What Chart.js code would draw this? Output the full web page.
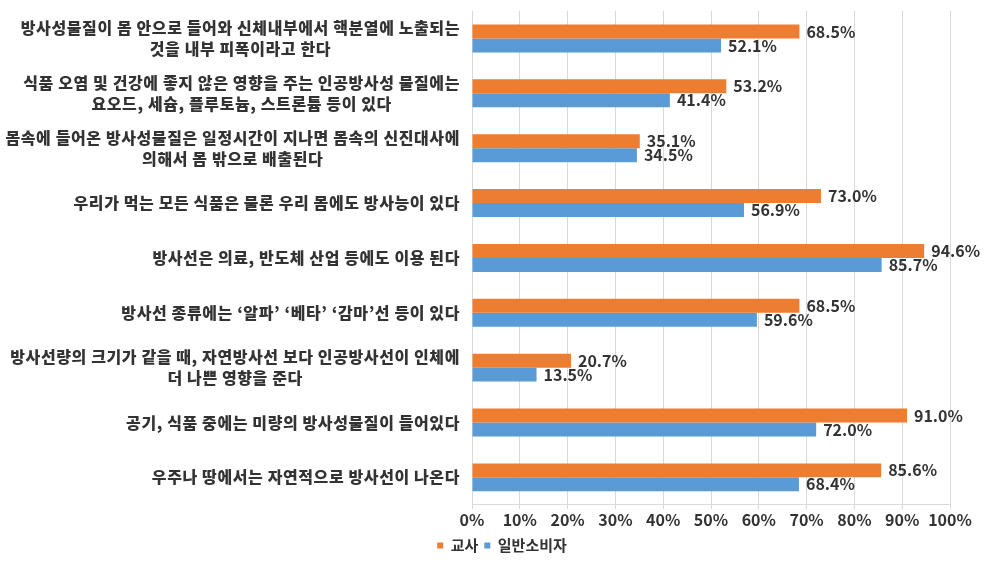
<!DOCTYPE html>
<html>
<head>
<meta charset="utf-8">
<script src="https://cdn.jsdelivr.net/npm/chart.js@4/dist/chart.umd.min.js"></script>
<style>
  html, body { margin: 0; padding: 0; background: #fff; }
  #wrap { width: 1004px; height: 564px; position: relative; }
</style>
</head>
<body>
<div id="wrap"><canvas id="chart"></canvas></div>
<script>
const categories = [
    ['방사성물질이 몸 안으로 들어와 신체내부에서 핵분열에 노출되는', '것을 내부 피폭이라고 한다'],
    ['식품 오염 및 건강에 좋지 않은 영향을 주는 인공방사성 물질에는', '요오드, 세슘, 플루토늄, 스트론튬 등이 있다'],
    ['몸속에 들어온 방사성물질은 일정시간이 지나면 몸속의 신진대사에', '의해서 몸 밖으로 배출된다'],
    ['우리가 먹는 모든 식품은 물론 우리 몸에도 방사능이 있다'],
    ['방사선은 의료, 반도체 산업 등에도 이용 된다'],
    ['방사선 종류에는 ‘알파’ ‘베타’ ‘감마’선 등이 있다'],
    ['방사선량의 크기가 같을 때, 자연방사선 보다 인공방사선이 인체에', '더 나쁜 영향을 준다'],
    ['공기, 식품 중에는 미량의 방사성물질이 들어있다'],
    ['우주나 땅에서는 자연적으로 방사선이 나온다']
];
const seriesNames = ['교사', '일반소비자'];
const teachers = [68.5, 53.2, 35.1, 73.0, 94.6, 68.5, 20.7, 91.0, 85.6];
const consumers = [52.1, 41.4, 34.5, 56.9, 85.7, 59.6, 13.5, 72.0, 68.4];
const xTicks = [0, 10, 20, 30, 40, 50, 60, 70, 80, 90, 100];

const FONT = '"Noto Sans CJK KR", "Noto Sans", sans-serif';
const TEXT = '#333333';

// category labels: block right aligned, lines centred inside the block
const categoryLabels = {
    id: 'categoryLabels',
    afterDraw(chart) {
        const ctx = chart.ctx;
        const yScale = chart.scales.y;
        const right = chart.chartArea.left - 12;
        const lineH = 21;
        ctx.save();
        ctx.font = '900 16px ' + FONT;
        ctx.letterSpacing = '0.6px';
        ctx.fillStyle = TEXT;
        ctx.textBaseline = 'middle';
        ctx.textAlign = 'center';
        categories.forEach((lines, i) => {
            const yc = yScale.getPixelForValue(i);
            const maxW = Math.max(...lines.map(l => ctx.measureText(l).width));
            const cx = right - maxW / 2;
            const y0 = yc - (lines.length - 1) * lineH / 2;
            lines.forEach((l, k) => ctx.fillText(l, cx, y0 + k * lineH));
        });
        ctx.restore();
    }
};

const valueLabels = {
    id: 'valueLabels',
    afterDatasetsDraw(chart) {
        const ctx = chart.ctx;
        ctx.save();
        ctx.font = 'bold 16px ' + FONT;
        ctx.fillStyle = TEXT;
        ctx.textBaseline = 'middle';
        ctx.textAlign = 'left';
        chart.data.datasets.forEach((ds, di) => {
            chart.getDatasetMeta(di).data.forEach((bar, i) => {
                ctx.fillText(ds.data[i].toFixed(1) + '%', bar.x + 7, bar.y);
            });
        });
        ctx.restore();
    }
};

new Chart(document.getElementById('chart'), {
    type: 'bar',
    data: {
        labels: categories.map((c, i) => i),
        datasets: [
            { label: seriesNames[0], data: teachers, backgroundColor: '#ED7D31' },
            { label: seriesNames[1], data: consumers, backgroundColor: '#5B9BD5' }
        ]
    },
    options: {
        indexAxis: 'y',
        responsive: true,
        maintainAspectRatio: false,
        animation: false,
        layout: { padding: { left: 54, right: 54, top: 11, bottom: 1 } },
        datasets: { bar: { categoryPercentage: 0.51, barPercentage: 1 } },
        scales: {
            y: {
                grid: { display: false },
                border: { display: false },
                ticks: { display: false },
                afterFit: axis => { axis.width = 418; }
            },
            x: {
                min: 0,
                max: 100,
                afterBuildTicks: axis => { axis.ticks = xTicks.map(v => ({ value: v })); },
                grid: { color: '#d9d9d9', tickLength: 4, drawTicks: true },
                border: { color: '#d9d9d9' },
                ticks: {
                    color: TEXT,
                    font: { family: FONT, size: 16, weight: 'bold' },
                    padding: 2,
                    maxRotation: 0,
                    minRotation: 0,
                    autoSkip: false,
                    callback: v => v + '%'
                }
            }
        },
        plugins: {
            legend: {
                position: 'bottom',
                labels: {
                    boxWidth: 6,
                    boxHeight: 6,
                    padding: 6,
                    color: TEXT,
                    font: { family: FONT, size: 15, weight: 'bold' }
                }
            },
            tooltip: { enabled: false }
        }
    },
    plugins: [categoryLabels, valueLabels]
});
</script>
</body>
</html>
